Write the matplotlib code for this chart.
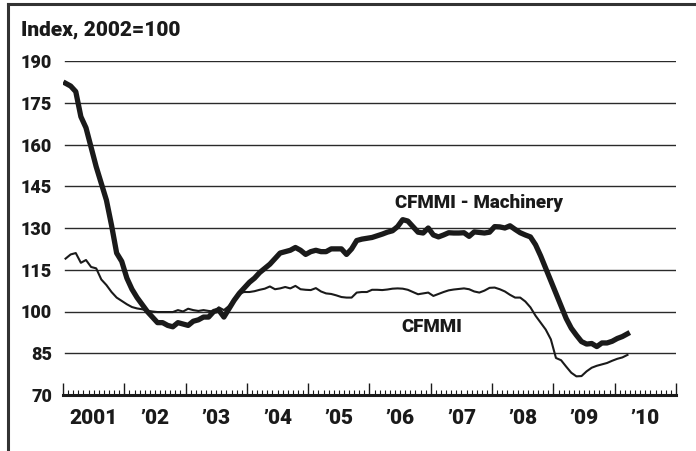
import numpy as np
import matplotlib
matplotlib.use("Agg")
import matplotlib.pyplot as plt
from matplotlib.lines import Line2D
from matplotlib.ticker import MultipleLocator
import matplotlib.transforms as mtransforms

plt.rcParams["font.family"] = ["Roboto", "DejaVu Sans"]
plt.rcParams["font.weight"] = 900

# monthly index values, Jan 2001 - Mar 2010
machinery = [
    182, 181, 179, 170, 166, 159, 152, 146, 140, 131, 121, 118,
    112, 108, 105, 102.5, 100, 98, 96, 96, 95, 94.5, 96, 95.5,
    95, 96.5, 97, 98, 98, 100, 100.5, 98, 101, 104, 106.5, 108.5,
    110.5, 112, 114, 115.5, 117, 119, 121, 121.5, 122, 123, 122, 120.5,
    121.5, 122, 121.5, 121.5, 122.5, 122.5, 122.5, 120.5, 122.5, 125.5, 126, 126.3,
    126.6, 127.2, 127.8, 128.5, 129, 130.5, 133, 132.5, 130.5, 128.5, 128.2, 130,
    127.5, 126.8, 127.5, 128.3, 128.2, 128.2, 128.3, 127, 128.6, 128.4, 128.2, 128.5,
    130.5, 130.4, 130, 130.8, 129.5, 128.3, 127.5, 126.8, 124, 120, 115.5, 111,
    106.5, 102, 97.5, 94, 91.5, 89.2, 88.3, 88.5, 87.4, 88.7, 88.7, 89.3,
    90.3, 91, 92,
]
cfmmi = [
    119, 120.5, 121, 117.5, 118.5, 116, 115.5, 111.5, 109.5, 107, 105, 103.8,
    102.6, 101.6, 101.1, 100.8, 100.3, 100, 99.8, 99.8, 99.8, 99.8, 100.5, 100,
    101, 100.5, 100.2, 100.5, 100.2, 100, 101.5, 100.5, 102, 104.5, 106.5, 107,
    107, 107.3, 107.8, 108.2, 109, 108, 108.3, 108.8, 108.3, 109.2, 108, 107.8,
    107.7, 108.4, 107.2, 106.5, 106.3, 105.8, 105.2, 105, 105, 106.8, 107, 107,
    107.8, 107.8, 107.7, 107.9, 108.2, 108.3, 108.2, 107.8, 107, 106.2, 106.5, 106.8,
    105.6, 106.3, 107, 107.6, 107.9, 108.1, 108.3, 108, 107.2, 106.8, 107.5, 108.5,
    108.6, 108, 107.2, 106, 105, 105, 103.6, 101.5, 98.5, 96, 93.5, 90,
    83.3, 82.5, 80.2, 78, 76.7, 76.8, 78.5, 79.8, 80.5, 81, 81.5, 82.3,
    83, 83.5, 84.4,
]
years = list(range(2001, 2011))
year_labels = ["2001", "\u201902", "\u201903", "\u201904", "\u201905",
               "\u201906", "\u201907", "\u201908", "\u201909", "\u201910"]
y_ticks = [70, 85, 100, 115, 130, 145, 160, 175, 190]

x = 2001 + (np.arange(len(machinery)) + 0.5) / 12

fig = plt.figure(figsize=(6.96, 4.51), dpi=100)
ax = fig.add_axes([63 / 696, 56 / 451, 613 / 696, 334 / 451])

ink = "#1a1a1a"
ax.plot(x, machinery, color=ink, lw=3.8, solid_joinstyle="round", zorder=3)
ax.plot(x, cfmmi, color=ink, lw=1.5, solid_joinstyle="round", zorder=3)

ax.set_xlim(2001, 2011)
ax.set_ylim(70, 190)
ax.set_yticks(y_ticks)
for v in y_ticks[1:]:
    ax.axhline(v, xmin=0.003, color="#2a2a2a", lw=1.0, zorder=1)

ax.tick_params(axis="y", length=0, pad=8, labelsize=13, labelcolor=ink)
ax.xaxis.set_major_locator(MultipleLocator(1))
ax.xaxis.set_minor_locator(MultipleLocator(1 / 12))
ax.tick_params(axis="x", which="major", direction="in", length=8.5, width=1.0,
               color=ink, labelbottom=False)
ax.tick_params(axis="x", which="minor", direction="in", length=3.5, width=0.8,
               color=ink)

for s in ["top", "right", "left"]:
    ax.spines[s].set_visible(False)
ax.spines["bottom"].set_linewidth(2.2)
ax.spines["bottom"].set_color(ink)

trans = mtransforms.blended_transform_factory(ax.transData, ax.transAxes)
for yr, lab in zip(years, year_labels):
    ax.text(yr + 0.5, -0.07, lab, transform=trans, ha="center", va="center",
            fontsize=15, color=ink)

ax.text(2007.79, 139, "CFMMI - Machinery", ha="center", va="center",
        fontsize=13.5, color=ink)
ax.text(2007.02, 94.4, "CFMMI", ha="center", va="center",
        fontsize=13.5, color=ink)

fig.text(21 / 696, 1 - 30 / 451, "Index, 2002=100", ha="left", va="center",
         fontsize=15, color=ink)

# frame around the chart (top and left edges visible)
fig.add_artist(Line2D([8 / 696, 1], [1 - 4 / 451, 1 - 4 / 451], color="#333333",
                      lw=2.2, transform=fig.transFigure))
fig.add_artist(Line2D([8 / 696, 8 / 696], [0, 1 - 4 / 451], color="#333333",
                      lw=2.2, transform=fig.transFigure))

fig.savefig("out.png", dpi=100)
